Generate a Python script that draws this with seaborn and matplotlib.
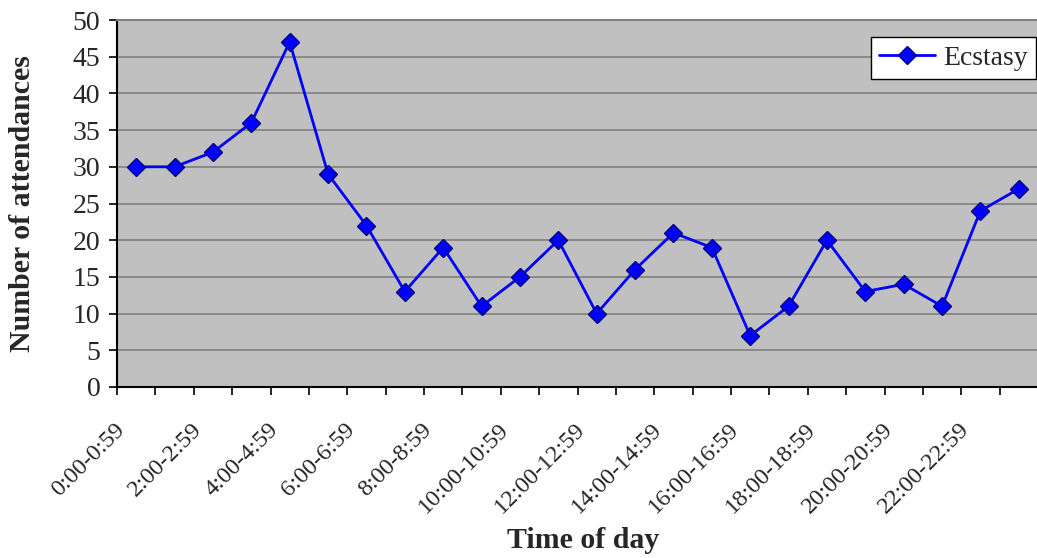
import matplotlib
matplotlib.use("Agg")
import matplotlib.pyplot as plt
import matplotlib.transforms as mtransforms
import seaborn as sns
import pandas as pd
import numpy as np

# Hourly attendance counts
hours = [f"{h}:00-{h}:59" for h in range(24)]
attendances = [30, 30, 32, 36, 47, 29, 22, 13, 19, 11, 15, 20,
               10, 16, 21, 19, 7, 11, 20, 13, 14, 11, 24, 27]
series_name = "Ecstasy"

df = pd.DataFrame({"pos": np.arange(len(hours)), "count": attendances, "hour": hours})

sns.set_style("white")
plt.rcParams["font.family"] = ["Liberation Serif", "DejaVu Serif"]

fig = plt.figure(figsize=(10.37, 5.58), dpi=100)
W, H = 1037, 558
ax = fig.add_axes([117 / W, 1 - 387 / H, (1038 - 117) / W, (387 - 20) / H])
ax.set_facecolor("#C0C0C0")

sns.lineplot(data=df, x="pos", y="count", ax=ax, color="#0000FF", linewidth=2,
             marker="D", markersize=9.5, markerfacecolor="#0000FF",
             markeredgecolor="#000080", markeredgewidth=1.0, label=series_name)

ax.set_xlim(-0.5, len(hours) - 0.5)
ax.set_ylim(0, 50)
ax.set_yticks(np.arange(0, 51, 5))
ax.yaxis.grid(True, color="#808080", linewidth=1.2)
ax.set_axisbelow(True)

# Category boundaries carry tick marks; every second hour gets a label
ax.set_xticks(np.arange(-0.5, len(hours), 1.0))
ax.set_xticklabels([])
ax.set_xticks(np.arange(0, len(hours), 2), minor=True)
ax.set_xticklabels(hours[::2], minor=True, rotation=45, ha="right", va="top",
                   fontsize=17.5)
ax.tick_params(axis="x", which="major", direction="out", length=5.5, width=1.2,
               color="black", bottom=True)
ax.tick_params(axis="x", which="minor", length=0, pad=23)
ax.tick_params(axis="y", direction="out", length=6, width=1.2, color="black",
               left=True, labelsize=20, pad=6)
offset = mtransforms.ScaledTranslation(-7 / 100, 0, fig.dpi_scale_trans)
for lbl in ax.get_xticklabels(minor=True):
    lbl.set_transform(lbl.get_transform() + offset)

for side in ["left", "bottom"]:
    ax.spines[side].set_color("black")
    ax.spines[side].set_linewidth(1.5)
ax.spines["top"].set_color("#808080")
ax.spines["top"].set_linewidth(1.5)
ax.spines["right"].set_visible(False)

ax.set_xlabel("Time of day", fontsize=21.5, fontweight="bold", va="top")
ax.xaxis.set_label_coords(0.506, -0.382)
ax.set_ylabel("Number of attendances", fontsize=21.5, fontweight="bold")
ax.yaxis.set_label_coords(-0.088, 0.5)

leg = ax.legend(loc="upper right", bbox_to_anchor=(0.998, 0.954), fontsize=20,
                frameon=True, fancybox=False, framealpha=1, edgecolor="black",
                handlelength=2.0, borderpad=0.3, handletextpad=0.3,
                borderaxespad=0)
leg.get_frame().set_linewidth(1.0)

fig.savefig("out.png", dpi=100)
